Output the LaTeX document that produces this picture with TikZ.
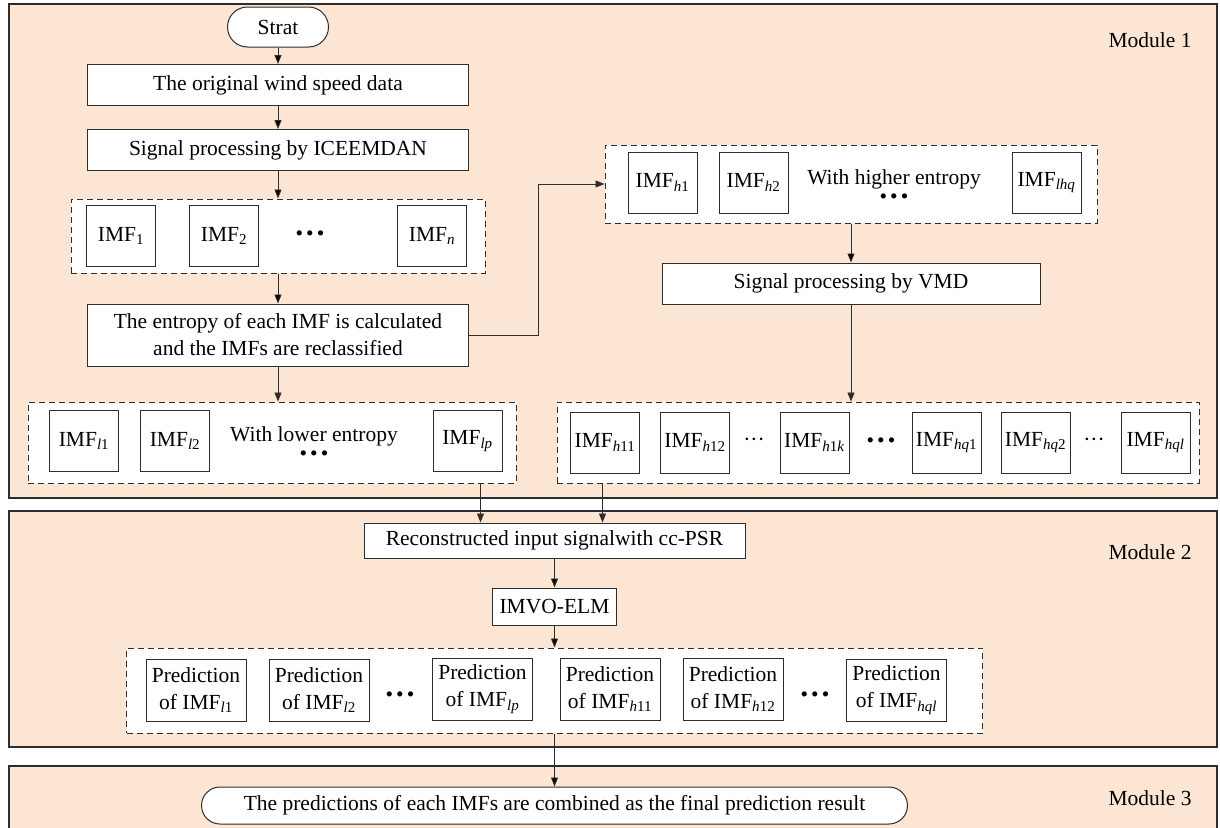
\documentclass[tikz,border=0pt]{standalone}
\usepackage{fontspec}
\setmainfont{Liberation Serif}
\usepackage{tikz}
\usetikzlibrary{
        arrows.meta,
        positioning,
        shapes,
        shapes.misc
    }
\definecolor{modfill}{RGB}{253,229,212}
\definecolor{edgegray}{RGB}{45,45,45}
\tikzset{>={Stealth[length=9pt,width=7pt,inset=0pt]},shorten >=0pt}
\tikzset{
  module/.style={draw=edgegray,line width=1.2pt,fill=modfill},
  modname/.style={inner sep=0pt},
  procbox/.style={draw=edgegray,line width=1pt,fill=white,inner sep=0pt,align=center},
  termbox/.style={procbox,rounded rectangle},
  imfbox/.style={draw=edgegray,line width=1pt,fill=white,inner sep=0pt,minimum width=69pt,minimum height=61pt},
  predbox/.style={imfbox,minimum width=100pt,minimum height=62pt,align=center},
  groupbox/.style={draw=edgegray,line width=1pt,fill=white,dash pattern=on 6pt off 4pt,inner sep=0pt},
  flow/.style={->,draw=edgegray,line width=0.9pt}
}
\newcommand{\imf}[1]{IMF\textsubscript{#1}}
\newcommand{\bigdots}{\textbullet\hspace{3pt}\textbullet\hspace{3pt}\textbullet}

\begin{document}
\begin{tikzpicture}[x=1pt,y=-1pt,font=\fontsize{21.5}{27}\selectfont]
    \useasboundingbox (0,0) rectangle (1220,827);
    % modules
    \draw[module] (9,4) rectangle (1217,498);
    \draw[module] (9,511) rectangle (1217,747);
    \draw[module] (9,766) rectangle (1217,860);
    \node[modname] (mod1) at (1150,40) {Module 1};
    \node[modname] (mod2) at (1150,552) {Module 2};
    \node[modname] (mod3) at (1150,798) {Module 3};

    % module 1, left column
    \node[termbox,minimum width=101pt,minimum height=40pt] (start) at (278,27) {Strat};
    \node[procbox,minimum width=381pt,minimum height=41pt] (orig) at (278,85) {The original wind speed data};
    \node[procbox,minimum width=381pt,minimum height=41pt] (iceemdan) at (278,150) {Signal processing by ICEEMDAN};
    \node[groupbox,minimum width=414pt,minimum height=74pt] (imfall) at (278,236) {};
    \node[imfbox] (imf1) at (121,236) {\imf{1}};
    \node[imfbox] (imf2) [right=33pt of imf1] {\imf{2}};
    \node (dots1) at (310,236) {\bigdots};
    \node[imfbox] (imfn) at (432,236) {\imf{\textit{n}}};
    \node[procbox,minimum width=381pt,minimum height=62pt] (entropy) at (278,335)
        {The entropy of each IMF is calculated\\and the IMFs are reclassified};
    \coordinate (turn) at (538,335);

    % module 1, right column
    \node[groupbox,minimum width=492pt,minimum height=78pt] (higher) at (851,184) {};
    \node[imfbox] (imfh1) at (662.5,182.5) {\imf{\textit{h}1}};
    \node[imfbox] (imfh2) at (753.5,182.5) {\imf{\textit{h}2}};
    \node (hightxt) at (894,179) {With higher entropy};
    \node (dots2) at (894,199) {\bigdots};
    \node[imfbox] (imflhq) at (1046.5,182.5) {\imf{\textit{lhq}}};
    \node[procbox,minimum width=378pt,minimum height=41pt] (vmd) at (851,283.5) {Signal processing by VMD};

    % module 1, bottom row
    \node[groupbox,minimum width=488pt,minimum height=81pt] (lowl) at (272,442.5) {};
    \node[imfbox] (imfl1) at (84,441) {\imf{\textit{l}1}};
    \node[imfbox] (imfl2) at (175,441) {\imf{\textit{l}2}};
    \node (lowtxt) at (314,436) {With lower entropy};
    \node (dots3) at (314,456) {\bigdots};
    \node[imfbox] (imflp) at (467.5,441) {\imf{\textit{lp}}};

    \node[groupbox,minimum width=642pt,minimum height=81pt] (lowr) at (878,442.5) {};
    \node[imfbox] (imfh11) at (605,442.5) {\imf{\textit{h}11}};
    \node[imfbox] (imfh12) at (695,442.5) {\imf{\textit{h}12}};
    \node (cd1) at (754,442.5) {···};
    \node[imfbox] (imfh1k) at (814.5,442.5) {\imf{\textit{h}1\textit{k}}};
    \node (dots4) at (881,442.5) {\bigdots};
    \node[imfbox] (imfhq1) at (946.5,442.5) {\imf{\textit{hq}1}};
    \node[imfbox] (imfhq2) at (1035.5,442.5) {\imf{\textit{hq}2}};
    \node (cd2) at (1094,442.5) {···};
    \node[imfbox] (imfhql) at (1155.5,442.5) {\imf{\textit{hql}}};

    % module 2
    \node[procbox,minimum width=381pt,minimum height=35pt] (recon) at (554.5,540.5) {Reconstructed input signalwith cc-PSR};
    \node[procbox,minimum width=124pt,minimum height=37pt] (imvo) at (554.5,606.5) {IMVO-ELM};
    \node[groupbox,minimum width=856pt,minimum height=85pt] (predall) at (554.5,690.5) {};
    \node[predbox] (pl1) at (196,690) {Prediction\\of \imf{\textit{l}1}};
    \node[predbox] (pl2) at (319,690) {Prediction\\of \imf{\textit{l}2}};
    \node (dots5) at (400,697) {\bigdots};
    \node[predbox] (plp) at (482.5,689) {Prediction\\of \imf{\textit{lp}}};
    \node[predbox] (ph11) at (610,689) {Prediction\\of \imf{\textit{h}11}};
    \node[predbox] (ph12) at (733,689) {Prediction\\of \imf{\textit{h}12}};
    \node (dots6) at (815,697) {\bigdots};
    \node[predbox] (phql) at (896.5,690) {Prediction\\of \imf{\textit{hql}}};

    % module 3
    \node[termbox,minimum width=706pt,minimum height=37pt] (final) at (554.5,805.5)
        {The predictions of each IMFs are combined as the final prediction result};

    \path[flow]
        (start) edge (orig)
        (orig) edge (iceemdan)
        (iceemdan) edge (imfall)
        (imfall) edge (entropy)
        (higher) edge (vmd)
        (recon) edge (imvo)
        (imvo) edge (predall)
        (predall) edge (final);
    \draw[flow] (entropy.east) -- (turn) |- (higher.west);
    \draw[flow] (entropy.south) -- (entropy.south |- lowl.north);
    \draw[flow] (vmd.south) -- (vmd.south |- lowr.north);
    \draw[flow] ([xshift=-36pt]lowl.south east) -- ([xshift=-36pt]lowl.south east |- recon.north);
    \draw[flow] ([xshift=46pt]lowr.south west) -- ([xshift=46pt]lowr.south west |- recon.north);
\end{tikzpicture}
\end{document}
